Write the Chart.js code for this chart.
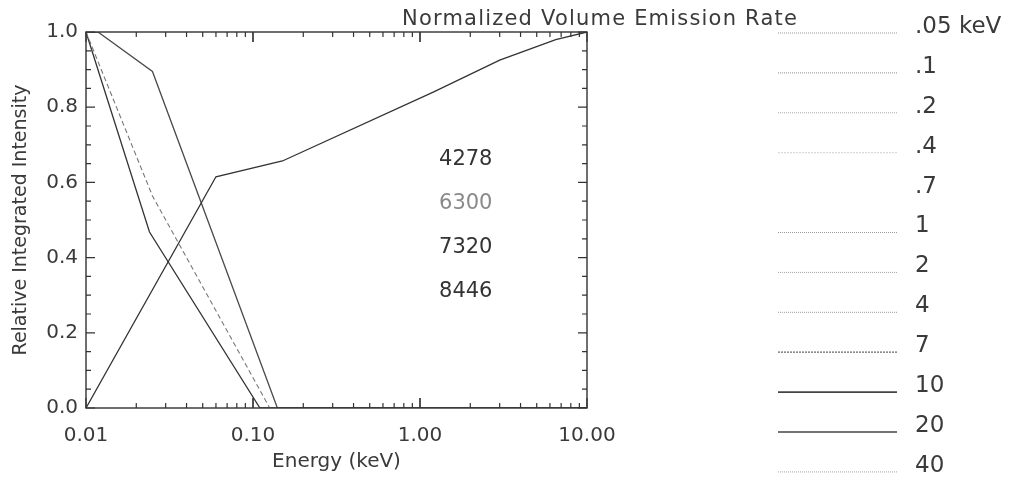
<!DOCTYPE html>
<html>
<head>
<meta charset="utf-8">
<script src="https://cdn.jsdelivr.net/npm/chart.js@4"></script>
<style>
  html, body { margin: 0; padding: 0; background: #fff; }
  #wrap { width: 1013px; height: 477px; }
</style>
</head>
<body>
<div id="wrap"><canvas id="myChart" width="1013" height="477"></canvas></div>
<script>
// energies (keV) and relative integrated intensity
const energy4278 = [0.01, 0.06, 0.15, 1.2, 3.0, 6.5, 10];
const value4278  = [0.0, 0.615, 0.657, 0.84, 0.925, 0.98, 1.0];

const energyOuter = [0.01, 0.0118, 0.025, 0.14, 10];
const valueOuter  = [1.0, 1.0, 0.895, 0.0, 0.0];

const energyDashed = [0.01, 0.025, 0.126, 10];
const valueDashed  = [1.0, 0.564, 0.0, 0.0];

const energyInner = [0.01, 0.024, 0.11, 10];
const valueInner  = [1.0, 0.468, 0.0, 0.0];

const xTickValues = [0.01, 0.1, 1, 10];
const yTickValues = [0, 0.2, 0.4, 0.6, 0.8, 1.0];

const lineNames  = ['4278', '6300', '7320', '8446'];
const lineColors = ['#333', '#8a8a8a', '#333', '#333'];

const legendTitle  = 'Normalized Volume Emission Rate';
const legendLabels = ['.05 keV', '.1', '.2', '.4', '.7', '1', '2', '4', '7', '10', '20', '40'];
const legendColors = ['#9a9a9a', '#8c8c8c', '#a8a8a8', '#d0d0d0', '#ffffff', '#9a9a9a',
                      '#a4a4a4', '#9a9a9a', '#666', '#444', '#444', '#a8a8a8'];
const legendDash   = [[1, 1], [1, 1], [1, 1], [2, 1], [], [1, 1], [1, 1], [1, 1], [2, 1], [], [], [1, 1]];
const legendWidth  = [1, 1, 1, 1, 1, 1, 1, 1, 1.3, 1.6, 1.6, 1];

function pts(xs, ys) {
  return xs.map((x, i) => ({ x: x, y: ys[i] }));
}

const textColor = '#3a3a3a';
const fontFam = "'DejaVu Sans', sans-serif";

const overlay = {
  id: 'overlay',
  afterDatasetsDraw(chart) {
    const ctx = chart.ctx;
    const a = chart.chartArea;
    const x = chart.scales.x, y = chart.scales.y;
    ctx.save();
    ctx.strokeStyle = '#333';
    ctx.lineWidth = 1.4;
    ctx.setLineDash([]);
    ctx.strokeRect(a.left, a.top, a.right - a.left, a.bottom - a.top);

    // inward tick marks, left/right
    ctx.lineWidth = 1.2;
    for (let i = 0; i <= 20; i++) {
      const py = y.getPixelForValue(i * 0.05);
      const len = i % 4 === 0 ? 9 : 5;
      ctx.beginPath();
      ctx.moveTo(a.left, py); ctx.lineTo(a.left + len, py);
      ctx.moveTo(a.right, py); ctx.lineTo(a.right - len, py);
      ctx.stroke();
    }
    // log ticks top/bottom
    [0.01, 0.1, 1].forEach(d => {
      for (let k = 1; k <= 10; k++) {
        const px = x.getPixelForValue(d * k);
        const len = (k === 1 || k === 10) ? 10 : 5;
        ctx.beginPath();
        ctx.moveTo(px, a.bottom); ctx.lineTo(px, a.bottom - len);
        ctx.moveTo(px, a.top); ctx.lineTo(px, a.top + len);
        ctx.stroke();
      }
    });

    // curve names inside the plot
    ctx.font = '21px ' + fontFam;
    ctx.textAlign = 'center';
    ctx.textBaseline = 'middle';
    const cx = a.left + (a.right - a.left) * 0.758;
    lineNames.forEach((t, i) => {
      ctx.fillStyle = lineColors[i];
      ctx.fillText(t, cx, a.top + 128 + i * 44);
    });

    // legend block on the right
    ctx.fillStyle = textColor;
    ctx.textAlign = 'left';
    ctx.font = '21px ' + fontFam;
    ctx.letterSpacing = '1.2px';
    ctx.fillText(legendTitle, 402, 20);
    ctx.letterSpacing = '0px';
    ctx.font = '23px ' + fontFam;
    legendLabels.forEach((t, i) => {
      const ry = 27 + i * 39.9;
      ctx.strokeStyle = legendColors[i];
      ctx.lineWidth = legendWidth[i];
      ctx.setLineDash(legendDash[i]);
      ctx.beginPath();
      ctx.moveTo(778, ry + 6);
      ctx.lineTo(897, ry + 6);
      ctx.stroke();
      ctx.fillStyle = textColor;
      ctx.fillText(t, 915, ry);
    });
    ctx.restore();
  }
};

window.onload = function() {
  const ctx = document.getElementById('myChart').getContext('2d');
  new Chart(ctx, {
    type: 'line',
    data: {
      datasets: [
        { label: '4278', data: pts(energy4278, value4278), borderColor: '#333', borderWidth: 1.3 },
        { label: 'outer', data: pts(energyOuter, valueOuter), borderColor: '#4a4a4a', borderWidth: 1.3 },
        { label: 'dashed', data: pts(energyDashed, valueDashed), borderColor: '#777', borderWidth: 1.1, borderDash: [5, 3] },
        { label: 'inner', data: pts(energyInner, valueInner), borderColor: '#333', borderWidth: 1.3 }
      ]
    },
    options: {
      responsive: false,
      animation: false,
      elements: { point: { radius: 0 }, line: { tension: 0 } },
      layout: { padding: { top: 32, right: 426, left: 0, bottom: 0 } },
      plugins: { legend: { display: false }, tooltip: { enabled: false } },
      scales: {
        x: {
          type: 'logarithmic',
          min: 0.01,
          max: 10,
          afterBuildTicks: s => { s.ticks = xTickValues.map(v => ({ value: v })); },
          afterFit: s => { s.height = 69; },
          grid: { display: false },
          border: { display: false },
          ticks: {
            color: textColor,
            padding: 8,
            autoSkip: false,
            maxRotation: 0,
            font: { family: fontFam, size: 20 },
            callback: v => Number(v).toFixed(2)
          },
          title: {
            display: true,
            text: 'Energy (keV)',
            color: textColor,
            font: { family: fontFam, size: 20 },
            padding: { top: 0, bottom: 3 }
          }
        },
        y: {
          min: 0,
          max: 1,
          afterBuildTicks: s => { s.ticks = yTickValues.map(v => ({ value: v })); },
          afterFit: s => { s.width = 86; },
          grid: { display: false },
          border: { display: false },
          ticks: {
            color: textColor,
            padding: 0,
            font: { family: fontFam, size: 20 },
            callback: v => Number(v).toFixed(1)
          },
          title: {
            display: true,
            text: 'Relative Integrated Intensity',
            color: textColor,
            font: { family: fontFam, size: 19 },
            padding: { top: 10, bottom: 0 }
          }
        }
      }
    },
    plugins: [overlay]
  });
};
</script>
</body>
</html>
